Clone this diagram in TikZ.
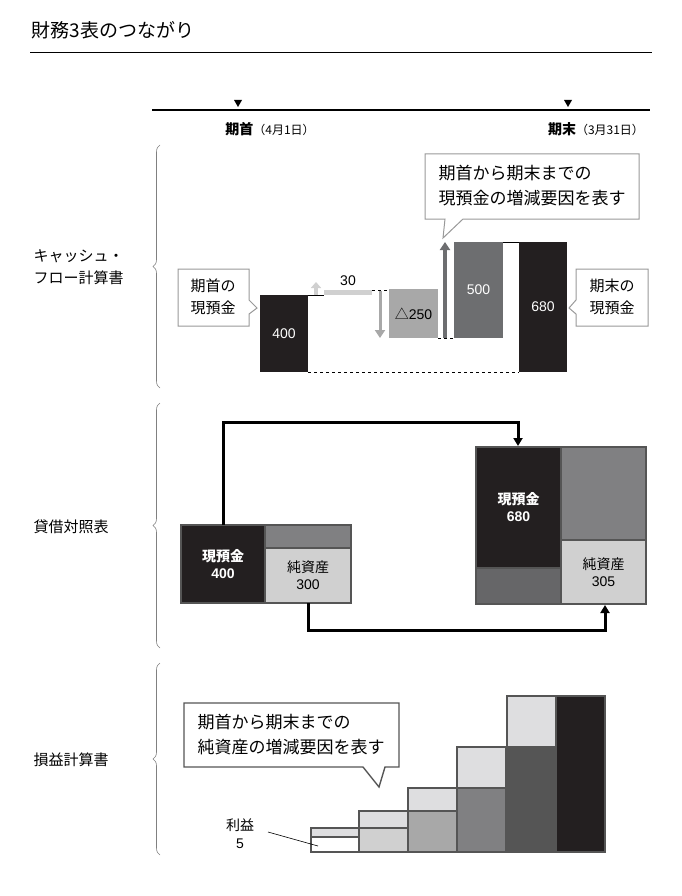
\documentclass[tikz,border=0pt]{standalone}
\usepackage{fontspec}
\setmainfont{Noto Sans CJK JP}
\newfontfamily\numfont{Liberation Sans}
\usetikzlibrary{decorations.pathreplacing,arrows.meta}
\definecolor{cfblack}{RGB}{35,31,32}
\definecolor{cfdark}{RGB}{109,110,112}
\definecolor{cfmid}{RGB}{168,168,168}
\definecolor{cflight}{RGB}{208,208,208}
\definecolor{cfpale}{RGB}{222,222,224}
\definecolor{cfgrey}{RGB}{128,128,130}
\definecolor{cfedge}{RGB}{85,85,85}

\tikzset{
  bar/.style={anchor=north west, inner sep=0pt, outer sep=0pt, font=\numfont\fontsize{14}{16}\selectfont},
  cell/.style={bar, draw=cfedge, line width=1.6pt},
  lbl/.style={font=\fontsize{15}{22}\selectfont, align=left, anchor=west},
  callout/.style={draw=gray!80, line width=1pt, fill=white},
  brace/.style={decorate, decoration={brace, amplitude=7pt}, draw=gray, line width=0.6pt},
  flow/.style={line width=3pt, -{Triangle[length=8pt,width=9pt]}, rounded corners=0pt}
}

\begin{document}
\begin{tikzpicture}[x=1pt,y=-1pt]
\useasboundingbox (0,0) rectangle (681,896);
% title
\node[anchor=west, font=\fontsize{19}{21}\selectfont] (title) at (28,30) {財務3表のつながり};
\draw[line width=0.6pt] (30,52) -- (652,52);
% timeline
\draw[line width=2.4pt] (152,110) -- (650,110);
\fill (234,100) -- (242,100) -- (238,107) -- cycle;
\fill (564,100) -- (572,100) -- (568,107) -- cycle;
\node[font=\fontsize{14}{16}\selectfont] (start) at (270,129) {\textbf{期首}{\fontsize{12}{14}\selectfont（4月1日）}};
\node[font=\fontsize{14}{16}\selectfont] (end) at (596,129) {\textbf{期末}{\fontsize{12}{14}\selectfont（3月31日）}};
% braces and section names
\draw[brace] (160,388) -- (160,145);
\draw[brace] (160,648) -- (160,403);
\draw[brace] (160,855) -- (160,663);
\node[lbl] (cfname) at (30,267) {キャッシュ・\\フロー計算書};
\node[lbl] (bsname) at (30,527) {貸借対照表};
\node[lbl] (plname) at (30,760) {損益計算書};

% cash flow
\draw[dashed, line width=0.6pt] (308,372) -- (519,372);
\draw[dashed, line width=0.6pt] (372,290) -- (388,290);
\draw[dashed, line width=0.6pt] (438,338) -- (454,338);
\draw[line width=0.6pt] (308,295) -- (324,295);
\draw[line width=0.6pt] (503,242) -- (519,242);
\node[bar, fill=cfblack, text=white, minimum width=48pt, minimum height=77pt] (cf400) at (260,295) {400};
\node[bar, fill=cflight, minimum width=48pt, minimum height=5pt] (cf30) at (324,290) {};
\node[font=\numfont\fontsize{14}{16}\selectfont] at (348,281) {30};
\node[bar, fill=cfmid, minimum width=49pt, minimum height=49pt] (cf250) at (389,289) {{\rmfamily △}250};
\node[bar, fill=cfdark, text=white, minimum width=49pt, minimum height=96pt] (cf500) at (454,242) {500};
\node[bar, fill=cfblack, text=white, minimum width=48pt, minimum height=130pt] (cf680) at (519,242) {680};
\draw[line width=4pt, cflight, -{Triangle[length=6pt,width=10pt]}] (316,295) -- (316,282);
\draw[line width=3pt, cfmid, -{Triangle[length=8pt,width=10pt]}] (380,291) -- (380,338);
\draw[line width=3.5pt, cfdark, -{Triangle[length=8pt,width=10pt]}] (445,338) -- (445,242);
% callouts
\draw[callout] (178,269) -- (249,269) -- (249,300) -- (257,308) -- (249,314) -- (249,326) -- (178,326) -- cycle;
\node[lbl, anchor=center] (openlbl) at (213,297) {期首の\\現預金};
\draw[callout] (576,269) -- (648,269) -- (648,326) -- (576,326) -- (576,314) -- (569,308) -- (576,300) -- cycle;
\node[lbl, anchor=center] (closelbl) at (612,297) {期末の\\現預金};
\draw[callout] (425,154) -- (639,154) -- (639,219) -- (463,219) -- (443,238) -- (445,219) -- (425,219) -- cycle;
\node[lbl, anchor=center, font=\fontsize{17}{25}\selectfont] (cfnote) at (532,186) {期首から期末までの\\現預金の増減要因を表す};

% balance sheet
\node[cell, fill=cfblack, text=white, minimum width=84pt, minimum height=78pt, font=\bfseries\fontsize{14}{17}\selectfont, align=center] (bs400) at (181,525) {現預金\\{\numfont 400}};
\node[cell, fill=cfgrey, minimum width=86pt, minimum height=23pt] (bsdebt) at (265,525) {};
\node[cell, fill=cflight, minimum width=86pt, minimum height=55pt, font=\fontsize{14}{17}\selectfont, align=center] (bs300) at (265,548) {純資産\\{\numfont 300}};
\node[cell, fill=cfblack, text=white, minimum width=85pt, minimum height=121pt, font=\bfseries\fontsize{14}{17}\selectfont, align=center] (bs680) at (476,447) {現預金\\{\numfont 680}};
\node[cell, fill=cfgrey!80!black, minimum width=85pt, minimum height=36pt] (bsother) at (476,568) {};
\node[cell, fill=cfgrey, minimum width=85pt, minimum height=93pt] (bsdebt2) at (561,447) {};
\node[cell, fill=cflight, minimum width=85pt, minimum height=64pt, font=\fontsize{14}{17}\selectfont, align=center] (bs305) at (561,540) {純資産\\{\numfont 305}};
\draw[flow] (bs400.north) |- (518,422) -- (518,446);
\draw[flow] (bs300.south) |- (605,630) -- (605,605);

% income statement
\foreach \x/\top/\mid/\col in {311/828/837/white, 359/811/828/cflight, 408/788/811/cfmid, 457/747/788/cfgrey, 507/696/747/cfedge}{
  \draw[line width=1.6pt, draw=cfedge, fill=cfpale] (\x,\top) rectangle ++(49,{\mid-\top});
  \draw[line width=1.6pt, draw=cfedge, fill=\col] (\x,\mid) rectangle ++(49,{852-\mid});
}
\node[cell, fill=cfblack, minimum width=49pt, minimum height=156pt] (plcash) at (556,696) {};
\node[font=\fontsize{14}{18}\selectfont, align=center] (profit) at (240,834) {利益\\{\numfont 5}};
\draw[line width=0.6pt] (268,832) -- (318,846);
\draw[callout, draw=cfedge, line width=1.4pt] (184,703) -- (399,703) -- (399,767) -- (385,767) -- (379,787) -- (363,767) -- (184,767) -- cycle;
\node[lbl, anchor=center, font=\fontsize{17}{25}\selectfont] (plnote) at (291,735) {期首から期末までの\\純資産の増減要因を表す};
\end{tikzpicture}
\end{document}
